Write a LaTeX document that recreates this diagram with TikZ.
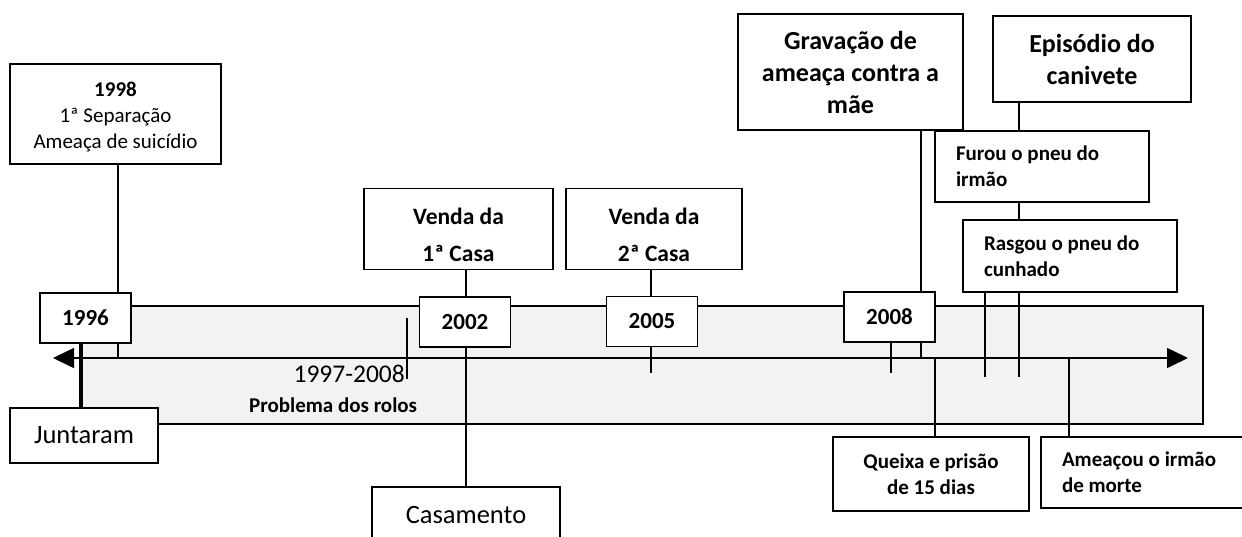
\documentclass[tikz,border=0pt]{standalone}
\usepackage{fontspec}
\setmainfont{Carlito}
\usetikzlibrary{arrows.meta,backgrounds}

\definecolor{rolosgray}{HTML}{F2F2F2}
\newcommand{\topstrut}[1]{\rule{0pt}{#1}}

\tikzset{
  box/.style={draw, fill=white, line width=1.8pt, inner sep=0pt, align=center},
  leftbox/.style={box, inner xsep=21pt, align=flush left},
  yearbox/.style={box, minimum width=91pt, minimum height=50pt,
                  font=\fontsize{23}{28}\selectfont\bfseries},
  vendabox/.style={box, minimum width=182pt, minimum height=81pt,
                   font=\fontsize{23.5}{37}\selectfont\bfseries},
  smalltext/.style={font=\fontsize{21}{26}\selectfont},
  smallbold/.style={font=\fontsize{21}{26}\selectfont\bfseries},
  bigbold/.style={font=\fontsize{26}{32}\selectfont\bfseries},
  bigtext/.style={font=\fontsize{26.5}{32}\selectfont},
  link/.style={line width=1.6pt},
}

\begin{document}
\begin{tikzpicture}[x=1pt, y=-1pt]
  \useasboundingbox (0,0) rectangle (1242,536);

  % pontos na linha do tempo
  \coordinate (aL) at (53,358);
  \coordinate (aR) at (1188,358);
  \coordinate (t1996) at (82,358);
  \coordinate (t1998) at (118,358);
  \coordinate (t2002) at (466,358);
  \coordinate (t2005) at (651,373);
  \coordinate (t2008) at (891,373);
  \coordinate (tgrav) at (921,358);
  \coordinate (tqueixa) at (935,358);
  \coordinate (tameaca) at (1069,358);
  \coordinate (tfurou) at (985,377);
  \coordinate (trasgou) at (1019,377);
  \coordinate (rolotop) at (407,318);
  \coordinate (rolobot) at (407,379);

  % caixas de cima
  \node[box, smalltext, minimum width=211pt, minimum height=100pt] (sep) at (115.5,114)
       {\topstrut{20pt}\textbf{1998}\\1ª Separação\\Ameaça de suicídio};
  \node[vendabox, minimum width=189pt] (venda1) at (458.5,229) {\topstrut{29pt}Venda da\\1ª Casa};
  \node[vendabox, minimum width=176pt] (venda2) at (654,229) {\topstrut{29pt}Venda da\\2ª Casa};
  \node[box, bigbold, minimum width=225pt, minimum height=116pt] (grav) at (850.5,72)
       {Gravação de\\ameaça contra a\\mãe};
  \node[box, bigbold, minimum width=198pt, minimum height=86pt] (canivete) at (1092,59)
       {Episódio do\\canivete};
  \node[leftbox, smallbold, text width=172pt, minimum height=71pt] (furou) at (1042,166.5)
       {Furou o pneu do\\irmão};
  \node[leftbox, smallbold, text width=172pt, minimum height=72pt] (rasgou) at (1070,256)
       {Rasgou o pneu do\\cunhado};

  % anos
  \node[yearbox] (y1996) at (85.5,318) {1996};
  \node[yearbox] (y2002) at (465,322) {2002};
  \node[yearbox] (y2005) at (652,321.5) {2005};
  \node[yearbox] (y2008) at (889.5,317) {2008};

  % caixas de baixo
  \node[box, bigtext, minimum width=148pt, minimum height=55pt] (junt) at (84,435.5) {Juntaram};
  \node[box, bigtext, minimum width=188pt, minimum height=56pt] (casam) at (466,515) {Casamento};
  \node[box, smallbold, minimum width=196pt, minimum height=74pt] (queixa) at (931,474)
       {Queixa e prisão\\de 15 dias};
  \node[leftbox, smallbold, text width=196pt, minimum height=71pt] (ameaca) at (1160,472.5)
       {Ameaçou o irmão\\de morte};

  % problema dos rolos
  \node[font=\fontsize{25.5}{30}\selectfont, anchor=base east, inner sep=0pt] (rolosano)
       at (405,382) {1997-2008};
  \node[smallbold, anchor=base west, inner sep=0pt] (rolos) at (249,412) {Problema dos rolos};

  \begin{scope}[on background layer]
    \draw[link, fill=rolosgray] (80,306) rectangle (1203,424);
    \draw[link] (sep.south -| t1998) -- (t1998);
    \draw[link] (y1996.south -| t1996) -- (junt.north -| t1996);
    \draw[link] (venda1.south -| t2002) -- (y2002.north -| t2002);
    \draw[link] (y2002.south -| t2002) -- (casam.north -| t2002);
    \draw[link] (venda2.south -| t2005) -- (t2005);
    \draw[link] (grav.south -| tgrav) -- (tgrav);
    \draw[link] (y2008.south -| t2008) -- (t2008);
    \draw[link] (tqueixa) -- (queixa.north -| tqueixa);
    \draw[link] (tameaca) -- (ameaca.north -| tameaca);
    \draw[link] (canivete.south -| trasgou) -- (furou.north -| trasgou);
    \draw[link] (furou.south -| trasgou) -- (rasgou.north -| trasgou);
    \draw[link] (rasgou.south -| tfurou) -- (tfurou);
    \draw[link] (rasgou.south -| trasgou) -- (trasgou);
    \draw[link] (rolotop) -- (rolobot);
    \draw[link, {Triangle[length=21pt,width=20pt]}-{Triangle[length=21pt,width=20pt]}]
         (aL) -- (aR);
  \end{scope}
\end{tikzpicture}
\end{document}
